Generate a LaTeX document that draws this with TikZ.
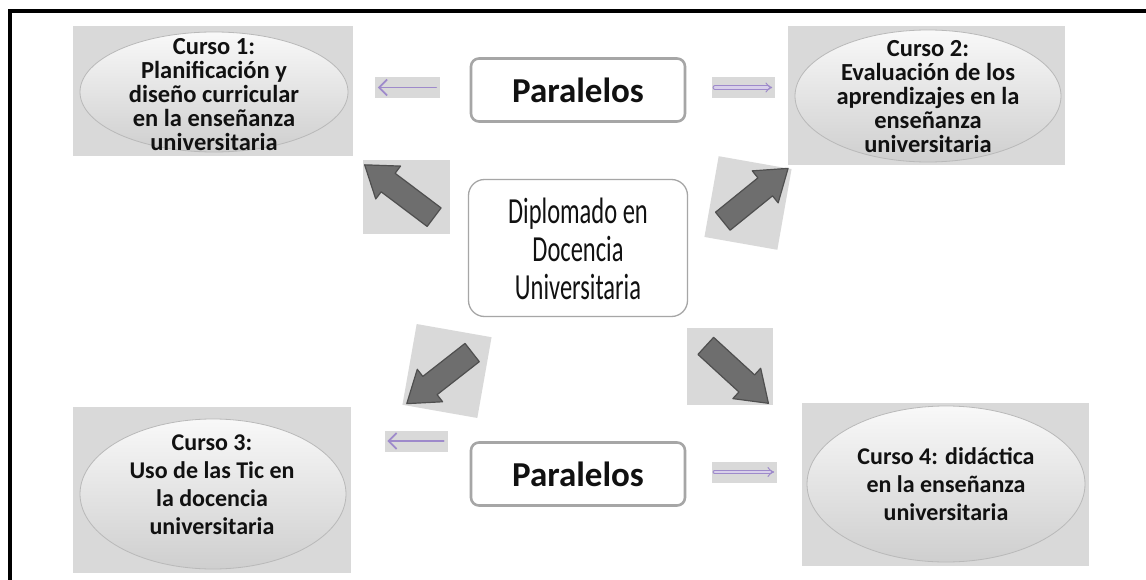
\documentclass[tikz,border=0pt]{standalone}
\usepackage{fontspec}
\setmainfont{Carlito}
\usetikzlibrary{arrows.meta,calc,positioning,shapes.geometric,shapes.arrows}
\definecolor{dgInk}{HTML}{111111}
\definecolor{dgPanel}{HTML}{D9D9D9}
\definecolor{dgEdge}{HTML}{A6A6A6}
\definecolor{dgArrow}{HTML}{6E6E6E}
\definecolor{dgArrowLine}{HTML}{4F4F4F}
\definecolor{dgLilac}{HTML}{9E8ACB}
\tikzset{
 diag/.style={line cap=round,line join=round,text=dgInk},
 panel/.style={rectangle,fill=dgPanel,draw=none,inner sep=0pt},
 course/.style={ellipse,top color=gray!5,bottom color=gray!38,draw=gray!55,line width=.8pt,inner sep=0pt},
 coursetext/.style={align=center,inner sep=0pt,font=\fontsize{24.5}{24}\selectfont\bfseries},
 tag/.style={rectangle,rounded corners=8pt,draw=dgEdge,line width=2.6pt,fill=white,
   minimum width=214pt,minimum height=63pt,font=\fontsize{35}{40}\selectfont\bfseries},
 hub/.style={rectangle,rounded corners=16pt,draw=dgEdge,line width=1.3pt,fill=white,
   minimum width=219pt,minimum height=137pt},
 bigarrow/.style={single arrow,fill=dgArrow,draw=dgArrowLine,line width=1.2pt,inner xsep=0pt,inner ysep=11pt,
   minimum height=85pt,single arrow head extend=9pt,single arrow tip angle=70},
 lilacL/.style={draw=dgLilac,line width=1.8pt,-{Straight Barb[length=8pt,width=16pt]}},
 lilacR/.style={draw=dgLilac,line width=1pt,double=dgLilac!40,double distance=2.4pt,-{Implies}},
 frame/.style={draw=black,line width=4pt,line cap=butt,line join=miter}
}
\newcommand{\hubtext}[1]{\scalebox{1}[1.5]{\fontsize{24.5}{25.3}\selectfont\begin{tabular}{@{}c@{}}#1\end{tabular}}}

\begin{document}
\begin{tikzpicture}[diag,x=1pt,y=-1pt]
 \useasboundingbox (0,0) rectangle (1146,580);
 \fill[white] (0,0) rectangle (1146,580);
 \draw[frame] (10,582) -- (10,11) -- (1148,11);
 % courses
 \node[panel,minimum width=280pt,minimum height=130pt] (bg1) at (213,91) {};
 \node[panel,minimum width=277pt,minimum height=139pt] (bg2) at (926.5,95.5) {};
 \node[panel,minimum width=278pt,minimum height=166pt] (bg3) at (212,490) {};
 \node[panel,minimum width=287pt,minimum height=163pt] (bg4) at (945.5,484.5) {};
 \node[course,minimum width=268pt,minimum height=120pt] (c1) at (214,92) {};
 \node[course,minimum width=266pt,minimum height=132pt] (c2) at (928,96) {};
 \node[course,minimum width=266pt,minimum height=150pt] (c3) at (213,494) {};
 \node[course,minimum width=278pt,minimum height=156pt] (c4) at (946,484) {};
 \node[coursetext] (t1) at (214,95) {Curso 1:\\Planificación y\\diseño curricular\\en la enseñanza\\universitaria};
 \node[coursetext] (t2) at (928,97) {Curso 2:\\Evaluación de los\\aprendizajes en la\\enseñanza\\universitaria};
 \node[coursetext,font=\fontsize{24}{28}\selectfont\bfseries] (t3) at (212,485) {Curso 3:\\Uso de las Tic en\\la docencia\\universitaria};
 \node[coursetext,font=\fontsize{24}{28}\selectfont\bfseries] (t4) at (946,484) {Curso 4: didáctica\\en la enseñanza\\universitaria};
 % paralelos
 \node[tag] (par1) at (578,90) {Paralelos};
 \node[tag] (par2) at (578,474) {Paralelos};
 \node[panel,minimum width=65pt,minimum height=21pt] (lp1) at (407.5,87.5) {};
 \node[panel,minimum width=63pt,minimum height=21pt] (rp1) at (743.5,87.5) {};
 \node[panel,minimum width=63pt,minimum height=21pt] (lp2) at (416,441) {};
 \node[panel,minimum width=65pt,minimum height=21pt] (rp2) at (744.5,472) {};
 \draw[lilacL] ([xshift=-4pt]lp1.east) -- ([xshift=3pt]lp1.west);
 \draw[lilacL] ([xshift=-4pt]lp2.east) -- ([xshift=3pt]lp2.west);
 \draw[lilacR] ([xshift=3pt]rp1.west) -- ([xshift=-3pt]rp1.east);
 \draw[lilacR] ([xshift=3pt]rp2.west) -- ([xshift=-3pt]rp2.east);
 % centre
 \node[hub] (dip) at (578,248) {};
 \node (diptext) at ([yshift=-6pt]dip.center) {\hubtext{Diplomado en\\Docencia\\Universitaria}};
 \node[panel,minimum width=87pt,minimum height=74pt] (sq1) at (406,197) {};
 \node[panel,minimum width=74pt,minimum height=82pt,rotate=-10] (sq2) at (748,203) {};
 \node[panel,minimum width=76pt,minimum height=82pt,rotate=-10] (sq3) at (447,371) {};
 \node[panel,minimum width=86pt,minimum height=77pt] (sq4) at (730,366.5) {};
 \node[bigarrow,rotate=143,minimum height=87pt] (a1) at (406,196) {};
 \node[bigarrow,rotate=39,minimum height=84pt] (a2) at (749,200) {};
 \node[bigarrow,rotate=218,minimum height=83pt] (a3) at (446,373) {};
 \node[bigarrow,rotate=-42.5] (a4) at (731,369) {};
\end{tikzpicture}
\end{document}
